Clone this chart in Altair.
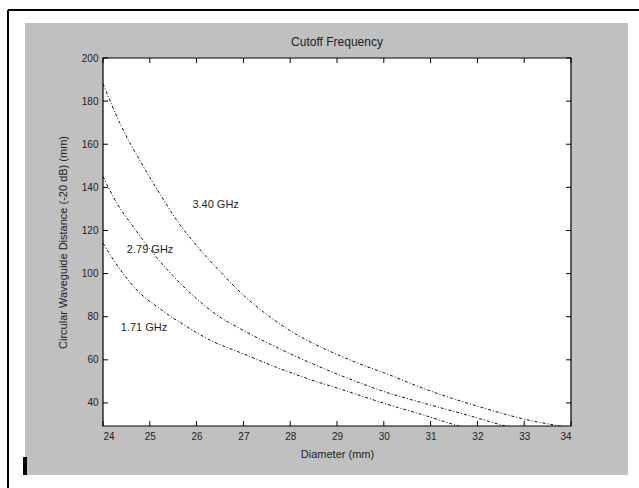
import altair as alt
import pandas as pd

# Curve readings: diameter (mm) vs. distance (mm) for each frequency
diam_340 = [24.0, 24.4, 24.8, 25.2, 25.6, 26.0, 26.5, 27.0, 27.5, 28.0, 28.5, 29.0, 29.5, 30.0, 31.0, 32.0, 33.0, 34.0]
dist_340 = [188.0, 168.0, 152.0, 137.5, 124.0, 113.0, 101.0, 90.0, 81.0, 73.5, 67.5, 62.5, 58.0, 54.0, 45.5, 38.5, 32.5, 28.5]

diam_279 = [24.0, 24.3, 24.65, 25.08, 25.52, 25.96, 26.4, 27.01, 27.71, 28.41, 29.19, 30.07, 30.94, 31.81, 32.51, 33.2]
dist_279 = [145.0, 132.5, 121.6, 109.2, 98.4, 89.1, 81.3, 73.5, 65.8, 58.8, 51.8, 44.8, 39.4, 34.2, 29.8, 26.0]

diam_171 = [24.0, 24.38, 24.73, 25.17, 25.7, 26.31, 27.01, 27.71, 28.41, 29.19, 30.07, 30.94, 31.4, 31.8]
dist_171 = [114.0, 101.5, 92.2, 84.4, 76.6, 68.9, 62.7, 56.5, 51.0, 45.6, 39.4, 33.8, 30.6, 28.0]

# Curve annotations (left edge of the text, vertical centre)
label_text = ["3.40 GHz", "2.79 GHz", "1.71 GHz"]
label_x = [25.91, 24.51, 24.38]
label_y = [131.9, 110.9, 74.8]

x_ticks = [24, 25, 26, 27, 28, 29, 30, 31, 32, 33, 34]
y_ticks = [40, 60, 80, 100, 120, 140, 160, 180, 200]

TITLE = "Cutoff Frequency"
X_TITLE = "Diameter (mm)"
Y_TITLE = "Circular Waveguide Distance (-20 dB) (mm)"
W, H = 468, 368
PAD = {"left": 103, "top": 58, "right": 68, "bottom": 62}
FONT = "Liberation Sans"
INK = "#1e1e1e"
GREY = "#c0c0c0"

rows = []
for name, xs, ys in [("3.40 GHz", diam_340, dist_340),
                     ("2.79 GHz", diam_279, dist_279),
                     ("1.71 GHz", diam_171, dist_171)]:
    for d, v in zip(xs, ys):
        rows.append({"series": name, "d": d, "v": v})
curves = pd.DataFrame(rows)
labels = pd.DataFrame({"text": label_text, "d": label_x, "v": label_y})
xt = pd.DataFrame({"d": x_ticks})
yt = pd.DataFrame({"v": y_ticks})
one = pd.DataFrame({"k": [0]})

xscale = alt.Scale(domain=[24, 34], nice=False, zero=False)
yscale = alt.Scale(domain=[29.3, 200], nice=False, zero=False)

# One axis definition shared by every layer that uses the scales
x_axis = alt.Axis(values=x_ticks, title=X_TITLE, format="d", ticks=False, grid=False,
                  domain=False, labelPadding=5, titlePadding=7, zindex=1)
y_axis = alt.Axis(values=y_ticks, title=Y_TITLE, format="d", ticks=False, grid=False,
                  domain=False, labelPadding=5, titlePadding=13, zindex=1)
X = alt.X("d:Q", scale=xscale, axis=x_axis)
Y = alt.Y("v:Q", scale=yscale, axis=y_axis)

L, T = -PAD["left"], -PAD["top"]
R, B = W + PAD["right"], H + PAD["bottom"]


def strip(x0, x1, y0, y1, color="white"):
    return alt.Chart(one).mark_rect(color=color).encode(
        x=alt.value(x0), x2=alt.value(x1), y=alt.value(y0), y2=alt.value(y1))


# White page margins around the grey figure panel, plus the page frame
margins = [
    strip(L, R, T, -35),
    strip(L, R, 417, B),
    strip(L, -78, T, B),
    strip(525, R, T, B),
]
frame_top = alt.Chart(one).mark_rule(color="black", strokeWidth=2).encode(
    x=alt.value(-95), x2=alt.value(R), y=alt.value(-48))
frame_left = alt.Chart(one).mark_rule(color="black", strokeWidth=2).encode(
    x=alt.value(-95), y=alt.value(-48), y2=alt.value(B))
marker = strip(-80, -76, 399, 417, "black")
axes_bg = strip(0, W, 0, H)

title = alt.Chart(one).mark_text(
    fontSize=12, font=FONT, color=INK, align="center", baseline="middle"
).encode(x=alt.value(W / 2), y=alt.value(-16), text=alt.value(TITLE))

lines = alt.Chart(curves).mark_line(
    color="#111111", strokeWidth=1, strokeDash=[3, 2, 1, 2],
    interpolate="monotone", clip=True
).encode(x=X, y=Y, detail="series:N")

text = alt.Chart(labels).mark_text(
    align="left", baseline="middle", fontSize=11, font=FONT, color=INK
).encode(x=X, y=Y, text="text:N")

# Inward tick marks on all four sides of the box
tick_b = alt.Chart(xt).mark_rule(color="black").encode(
    x=X, y=alt.value(H), y2=alt.value(H - 5))
tick_t = alt.Chart(xt).mark_rule(color="black").encode(
    x=X, y=alt.value(0), y2=alt.value(5))
tick_l = alt.Chart(yt).mark_rule(color="black").encode(
    y=Y, x=alt.value(0), x2=alt.value(5))
tick_r = alt.Chart(yt).mark_rule(color="black").encode(
    y=Y, x=alt.value(W), x2=alt.value(W - 5))

box = alt.Chart(one).mark_rect(fillOpacity=0, stroke="black", strokeWidth=1.2).encode(
    x=alt.value(0), x2=alt.value(W), y=alt.value(0), y2=alt.value(H))

chart = alt.layer(
    *margins, frame_top, frame_left, marker, axes_bg, title,
    lines, text, tick_b, tick_t, tick_l, tick_r, box
).properties(
    width=W, height=H,
    autosize=alt.AutoSizeParams(type="none"),
    padding=PAD,
).configure(
    background=GREY,
).configure_view(
    stroke=None,
).configure_axis(
    grid=False,
    labelFont=FONT, labelFontSize=10, labelColor=INK,
    titleFont=FONT, titleFontSize=11, titleColor=INK, titleFontWeight="normal",
)

chart.save("out.html", embed_options={"renderer": "svg", "actions": False})
